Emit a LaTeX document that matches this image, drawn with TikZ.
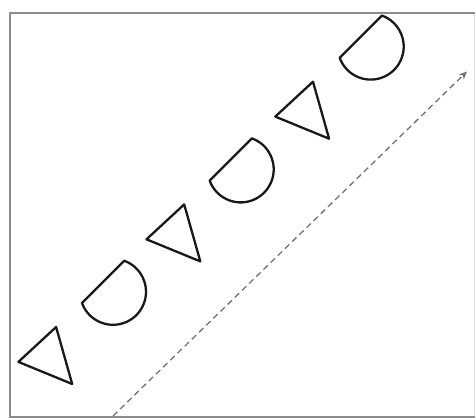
\documentclass[tikz,border=0pt]{standalone}
\usetikzlibrary{arrows.meta,calc}
\tikzset{
  shapeline/.style={draw=black!90, line width=2.3pt, line join=round},
  framebox/.style={draw=black!45, line width=2pt},
  faintedge/.style={draw=black!12, line width=1pt},
  dirarrow/.style={draw=black!55, line width=1.3pt, dash pattern=on 6pt off 4pt,
    -{Stealth[length=8pt,width=7pt,inset=2.5pt]}},
}
\newcommand{\dshape}[2]{%
  \draw[shapeline] ($(#1,#2)+(-70.1:33)$) arc[start angle=-70.1, end angle=160.1, radius=33] -- cycle;}
\newcommand{\tshape}[2]{%
  \draw[shapeline] ($(#1,#2)+(-30.5,4.3)$) -- ($(#1,#2)+(7.2,-30.6)$) -- ($(#1,#2)+(23.3,26.4)$) -- cycle;}
\begin{document}
\begin{tikzpicture}[x=1pt,y=-1pt]
\useasboundingbox (0,0) rectangle (475,418);
\fill[white] (0,0) rectangle (475,418);
\draw[faintedge] (474,12.5) -- (474,416.5);
\draw[framebox] (475,12.5) -- (9.5,12.5) -- (9.5,416.5) -- (475,416.5);
% triangles
\tshape{48.9}{357.6}
\tshape{177}{235}
\tshape{305.8}{112.3}
% D shapes
\dshape{113}{291.8}
\dshape{240.7}{169.4}
\dshape{370.7}{46.6}
% direction arrow
\coordinate (s) at (113,416);
\coordinate (e) at (467,71.5);
\draw[dirarrow] (s) -- (e);
\end{tikzpicture}
\end{document}
